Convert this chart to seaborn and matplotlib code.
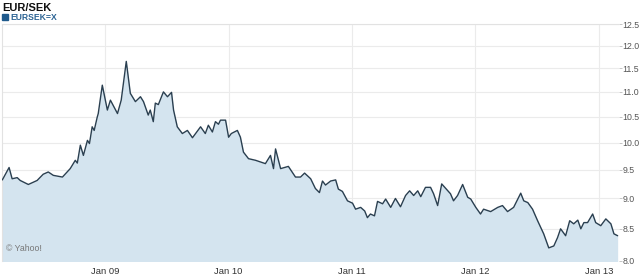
import matplotlib
matplotlib.use("Agg")
import matplotlib.pyplot as plt
import matplotlib.dates as mdates
from matplotlib.ticker import FixedLocator, NullFormatter, NullLocator
import seaborn as sns
import pandas as pd

title = "EUR/SEK"
series_name = "EURSEK=X"
credit = "\u00a9 Yahoo!"

dates = [
    "2008-03-02", "2008-03-22", "2008-03-31", "2008-04-15", "2008-04-24", "2008-05-18",
    "2008-06-13", "2008-07-01", "2008-07-16", "2008-07-31", "2008-08-27", "2008-09-19",
    "2008-10-04", "2008-10-10", "2008-10-19", "2008-10-28", "2008-11-09", "2008-11-15",
    "2008-11-23", "2008-11-29", "2008-12-08", "2008-12-11", "2008-12-23", "2009-01-07",
    "2009-01-16", "2009-02-06", "2009-02-17", "2009-03-04", "2009-03-16", "2009-03-31",
    "2009-04-15", "2009-04-24", "2009-05-08", "2009-05-14", "2009-05-23", "2009-05-29",
    "2009-06-07", "2009-06-22", "2009-07-04", "2009-07-16", "2009-07-22", "2009-08-02",
    "2009-08-17", "2009-09-01", "2009-09-16", "2009-10-10", "2009-10-24", "2009-11-02",
    "2009-11-14", "2009-11-23", "2009-12-02", "2009-12-08", "2009-12-23", "2010-01-01",
    "2010-01-09", "2010-01-27", "2010-02-05", "2010-02-14", "2010-03-01", "2010-03-22",
    "2010-04-05", "2010-04-20", "2010-05-05", "2010-05-14", "2010-05-20", "2010-06-04",
    "2010-06-27", "2010-07-18", "2010-08-02", "2010-08-14", "2010-09-01", "2010-09-15",
    "2010-09-27", "2010-10-06", "2010-10-15", "2010-10-30", "2010-11-14", "2010-11-22",
    "2010-12-04", "2010-12-19", "2011-01-03", "2011-01-12", "2011-01-27", "2011-02-08",
    "2011-02-16", "2011-02-25", "2011-03-09", "2011-03-18", "2011-04-02", "2011-04-11",
    "2011-04-26", "2011-05-10", "2011-05-25", "2011-06-09", "2011-06-21", "2011-07-03",
    "2011-07-15", "2011-07-24", "2011-08-07", "2011-08-22", "2011-08-31", "2011-09-12",
    "2011-09-24", "2011-10-06", "2011-10-20", "2011-10-29", "2011-11-10", "2011-11-25",
    "2011-12-10", "2011-12-19", "2012-01-03", "2012-01-17", "2012-01-26", "2012-02-16",
    "2012-03-08", "2012-03-22", "2012-04-06", "2012-04-24", "2012-05-15", "2012-05-24",
    "2012-06-05", "2012-06-19", "2012-07-04", "2012-07-22", "2012-08-06", "2012-08-21",
    "2012-09-01", "2012-09-10", "2012-09-25", "2012-10-07", "2012-10-19", "2012-10-31",
    "2012-11-09", "2012-11-18", "2012-11-29", "2012-12-14", "2012-12-23", "2013-01-07",
    "2013-01-22", "2013-02-06", "2013-02-15", "2013-02-26",
]
rates = [
    9.32, 9.54, 9.34, 9.36, 9.31, 9.24,
    9.31, 9.42, 9.46, 9.40, 9.37, 9.52,
    9.67, 9.62, 9.95, 9.76, 10.04, 9.98,
    10.30, 10.23, 10.49, 10.56, 11.14, 10.63,
    10.83, 10.56, 10.83, 11.65, 10.97, 10.80,
    10.90, 10.80, 10.53, 10.63, 10.40, 10.77,
    10.74, 11.00, 10.90, 10.99, 10.63, 10.30,
    10.17, 10.23, 10.09, 10.30, 10.17, 10.33,
    10.20, 10.40, 10.35, 10.43, 10.43, 10.10,
    10.17, 10.23, 10.10, 9.82, 9.70, 9.67,
    9.64, 9.61, 9.76, 9.52, 9.88, 9.52,
    9.56, 9.37, 9.37, 9.44, 9.34, 9.17,
    9.10, 9.30, 9.23, 9.30, 9.32, 9.16,
    9.12, 8.96, 8.92, 8.82, 8.85, 8.79,
    8.68, 8.74, 8.71, 8.95, 8.91, 8.99,
    8.85, 9.00, 8.86, 9.05, 9.13, 9.05,
    9.13, 9.03, 9.19, 9.19, 9.08, 8.88,
    9.25, 9.17, 9.08, 8.96, 9.05, 9.24,
    9.02, 8.99, 8.85, 8.74, 8.82, 8.78,
    8.85, 8.88, 8.78, 8.85, 9.09, 8.96,
    8.93, 8.82, 8.63, 8.42, 8.20, 8.23,
    8.36, 8.50, 8.39, 8.63, 8.58, 8.64,
    8.50, 8.60, 8.60, 8.74, 8.60, 8.55,
    8.66, 8.58, 8.42, 8.39,
]
y_ticks = [8.0, 8.5, 9.0, 9.5, 10.0, 10.5, 11.0, 11.5, 12.0, 12.5]
x_tick_dates = ["2009-01-01", "2010-01-01", "2011-01-01", "2012-01-01", "2013-01-01"]
x_tick_labels = ["Jan 09", "Jan 10", "Jan 11", "Jan 12", "Jan 13"]

df = pd.DataFrame({"date": pd.to_datetime(dates), "rate": rates})

sns.set_style("white")
plt.rcParams["font.family"] = ["Liberation Sans", "DejaVu Sans"]

fig = plt.figure(figsize=(6.4, 2.77), dpi=100)
ax = fig.add_axes([2 / 640, 16 / 277, 617 / 640, 237 / 277])

line_color = "#2a3f50"
fill_color = "#d4e4ef"
grid_color = "#ebebeb"

ax.set_yscale("log")
ax.fill_between(df["date"], df["rate"], 7.0, color=fill_color, linewidth=0, zorder=1)
sns.lineplot(data=df, x="date", y="rate", ax=ax, color=line_color, linewidth=1.0, zorder=3)

ax.set_ylim(8.0, 12.5)
ax.set_xlim(pd.Timestamp("2008-03-01"), pd.Timestamp("2013-03-02"))

ax.yaxis.set_major_locator(FixedLocator(y_ticks))
ax.yaxis.set_minor_locator(NullLocator())
ax.yaxis.set_minor_formatter(NullFormatter())
ax.set_yticklabels([f"{v:.1f}" for v in y_ticks])
ax.yaxis.tick_right()
ax.tick_params(axis="y", which="major", length=2, width=0.6, color="#bbbbbb",
               labelsize=6.3, labelcolor="#555555", pad=0.5)

xt = [mdates.date2num(pd.Timestamp(d)) for d in x_tick_dates]
ax.set_xticks(xt)
ax.set_xticklabels(x_tick_labels)
ax.xaxis.set_minor_locator(mdates.MonthLocator(bymonth=[4, 7, 10]))
ax.tick_params(axis="x", which="major", length=0, labelsize=6.8, labelcolor="#333333", pad=4)
ax.tick_params(axis="x", which="minor", length=3, width=0.6, color="#cccccc", direction="in")

ax.grid(True, which="major", axis="both", color=grid_color, linewidth=0.8, zorder=0)
ax.set_axisbelow(True)
for side in ["top", "left"]:
    ax.spines[side].set_visible(True)
    ax.spines[side].set_color("#e2e2e2")
    ax.spines[side].set_linewidth(0.8)
for side in ["bottom", "right"]:
    ax.spines[side].set_visible(False)
ax.set_xlabel("")
ax.set_ylabel("")

ax.text(0.006, 0.035, credit, transform=ax.transAxes, fontsize=6.3, color="#777777",
        ha="left", va="bottom", zorder=4)

fig.text(2 / 640, 1 - 8 / 277, title, fontsize=8.0, fontweight="bold", color="#111111",
         ha="left", va="center")
fig.patches.append(plt.Rectangle((2 / 640, 1 - 20 / 277), 6 / 640, 6 / 277,
                                 transform=fig.transFigure, color="#1f5a8c"))
fig.text(10 / 640, 1 - 17 / 277, series_name, fontsize=6.2, fontweight="bold",
         color="#2d6494", ha="left", va="center")

fig.savefig("out.png", dpi=100)
